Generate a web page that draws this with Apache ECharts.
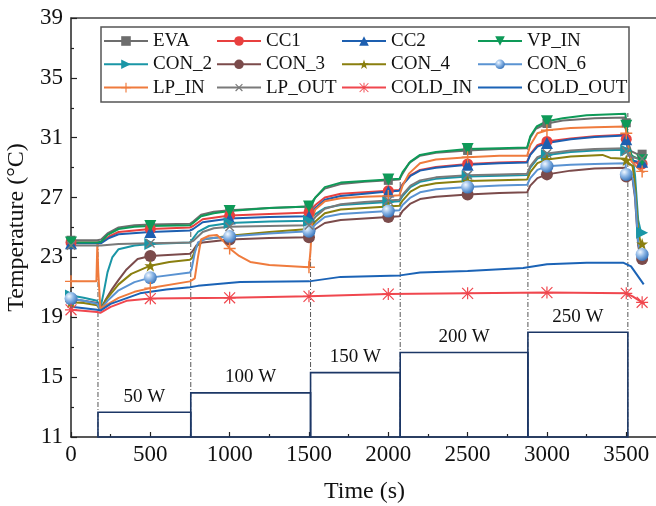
<!DOCTYPE html>
<html>
<head>
<meta charset="utf-8">
<script src="https://cdn.jsdelivr.net/npm/echarts@6/dist/echarts.min.js"></script>
<style>html,body{margin:0;padding:0;background:#fff}#c{width:656px;height:506px}</style>
</head>
<body>
<div id="c"></div>
<script>
// ---- Data (time in s, temperature in °C) ----
const seriesNames = ['EVA','CC1','CC2','VP_IN','CON_2','CON_3','CON_4','CON_6','LP_IN','LP_OUT','COLD_IN','COLD_OUT'];
const markerTimes = [0,500,1000,1500,2000,2500,3000,3500,3600];

const EVA = [[0,24.15],[165,24.15],[190,24.2],[230,24.6],[300,25.0],[400,25.15],[500,25.2],[750,25.25],
 [770,25.4],[820,25.85],[900,26.05],[1000,26.15],[1250,26.3],[1500,26.4],[1510,26.45],
 [1540,27.0],[1600,27.6],[1700,27.9],[1850,28.05],[2000,28.15],[2070,28.2],
 [2090,28.6],[2130,29.3],[2200,29.8],[2300,30.0],[2500,30.15],[2700,30.25],[2875,30.3],
 [2895,31.0],[2930,31.6],[3000,31.95],[3100,32.15],[3300,32.3],[3495,32.35],
 [3500,32.0],[3515,30.6],[3530,30.1],[3560,29.95],[3600,29.9],[3615,29.9]];
const CC1 = [[0,24.0],[165,24.0],[190,24.0],[240,24.4],[300,24.7],[500,24.9],[750,25.0],
 [770,25.1],[830,25.55],[1000,25.8],[1250,25.9],[1500,26.0],[1510,26.05],
 [1540,26.5],[1600,27.0],[1700,27.25],[1850,27.35],[2000,27.45],[2070,27.5],
 [2090,27.9],[2140,28.5],[2200,28.85],[2300,29.05],[2500,29.25],[2700,29.35],[2875,29.4],
 [2895,29.9],[2940,30.5],[3000,30.75],[3150,30.95],[3300,31.1],[3495,31.2],
 [3500,30.9],[3515,29.9],[3535,29.4],[3570,29.3],[3600,29.25],[3615,29.2]];
const CC2 = [[0,23.95],[165,23.95],[190,23.95],[240,24.3],[300,24.55],[500,24.7],[750,24.8],
 [770,24.9],[830,25.35],[1000,25.6],[1250,25.7],[1500,25.75],[1510,25.8],
 [1540,26.3],[1600,26.85],[1700,27.1],[1850,27.25],[2000,27.4],[2070,27.45],
 [2090,27.85],[2140,28.45],[2200,28.8],[2300,29.0],[2500,29.2],[2700,29.3],[2875,29.35],
 [2895,29.85],[2940,30.4],[3000,30.65],[3150,30.9],[3300,31.05],[3495,31.15],
 [3500,30.9],[3515,29.9],[3535,29.5],[3570,29.4],[3600,29.4],[3615,29.4]];
const VP_IN = [[0,24.0],[165,24.0],[190,24.05],[230,24.5],[300,24.9],[400,25.05],[500,25.1],[750,25.15],
 [770,25.3],[820,25.75],[900,25.95],[1000,26.1],[1250,26.3],[1500,26.4],[1510,26.45],
 [1540,27.0],[1600,27.7],[1700,28.0],[1850,28.1],[2000,28.2],[2070,28.25],
 [2090,28.7],[2140,29.4],[2200,29.85],[2300,30.05],[2500,30.25],[2700,30.3],[2875,30.35],
 [2895,31.1],[2935,31.75],[3000,32.1],[3100,32.3],[3250,32.5],[3495,32.6],
 [3500,31.8],[3515,30.4],[3535,29.8],[3570,29.6],[3600,29.5],[3615,29.5]];
const CON_2 = [[0,20.45],[80,20.3],[165,20.1],[185,19.6],[205,20.6],[230,22.0],[260,23.0],[300,23.55],[400,23.8],[500,23.9],[750,24.0],
 [760,24.1],[800,24.7],[870,25.1],[1000,25.3],[1250,25.4],[1500,25.45],[1510,25.5],
 [1540,25.9],[1600,26.3],[1700,26.5],[1850,26.6],[2000,26.7],[2070,26.75],
 [2090,27.1],[2140,27.7],[2200,28.05],[2300,28.25],[2500,28.4],[2700,28.45],[2875,28.5],
 [2895,29.0],[2940,29.6],[3000,29.85],[3150,30.05],[3300,30.15],[3495,30.2],
 [3500,30.15],[3515,29.9],[3540,29.7],[3555,28.5],[3575,25.5],[3590,24.8],[3600,24.65],[3615,24.6]];
const CON_3 = [[0,20.2],[80,20.1],[165,19.95],[185,19.5],[220,20.2],[260,20.9],[300,21.5],[350,22.2],[420,22.9],[500,23.1],[750,23.25],
 [765,23.4],[790,23.8],[830,24.0],[1000,24.2],[1250,24.3],[1500,24.35],[1510,24.4],
 [1540,24.9],[1600,25.3],[1700,25.5],[1850,25.6],[2000,25.7],[2070,25.75],
 [2090,26.1],[2140,26.6],[2200,26.9],[2300,27.05],[2500,27.2],[2700,27.3],[2875,27.35],
 [2895,27.8],[2940,28.3],[3000,28.55],[3150,28.8],[3300,28.95],[3495,29.0],
 [3500,28.4],[3515,28.3],[3540,28.2],[3555,27.0],[3575,23.8],[3590,23.0],[3600,22.9],[3615,22.85]];
const CON_4 = [[0,20.0],[80,19.95],[165,19.8],[185,19.5],[230,20.3],[300,21.2],[380,21.9],[500,22.45],[620,22.7],[750,22.85],
 [765,23.0],[790,23.7],[830,24.2],[1000,24.45],[1250,24.7],[1500,24.9],[1510,24.95],
 [1540,25.4],[1600,25.95],[1700,26.2],[1850,26.3],[2000,26.4],[2070,26.45],
 [2090,26.8],[2140,27.4],[2200,27.75],[2300,27.95],[2500,28.1],[2700,28.15],[2875,28.2],
 [2895,28.7],[2940,29.3],[3000,29.55],[3150,29.75],[3350,29.85],[3400,29.65],[3495,29.6],
 [3500,29.5],[3515,29.3],[3540,29.1],[3555,27.8],[3575,24.8],[3590,24.0],[3600,23.9],[3615,23.85]];
const CON_6 = [[0,20.25],[80,20.1],[165,19.9],[185,19.5],[230,20.1],[300,20.8],[400,21.35],[500,21.65],[750,22.0],
 [760,22.2],[780,23.3],[800,24.0],[850,24.25],[1000,24.4],[1250,24.6],[1500,24.75],[1510,24.8],
 [1540,25.2],[1600,25.7],[1700,25.9],[1850,26.0],[2000,26.1],[2070,26.15],
 [2090,26.5],[2140,27.0],[2200,27.35],[2300,27.55],[2500,27.7],[2700,27.8],[2875,27.85],
 [2895,28.3],[2940,28.85],[3000,29.1],[3150,29.2],[3300,29.25],[3495,29.3],
 [3500,28.55],[3515,28.4],[3540,28.3],[3555,27.2],[3575,24.0],[3590,23.3],[3600,23.2],[3615,23.15]];
const LP_IN = [[0,21.4],[160,21.4],[166,23.9],[172,22.0],[185,19.6],[220,19.8],[300,20.3],[400,20.7],[500,20.95],[750,21.4],
 [780,21.6],[800,23.0],[820,24.2],[870,24.45],[920,24.5],[960,24.1],[1000,23.6],[1060,23.1],[1130,22.7],[1250,22.5],[1500,22.35],
 [1510,23.5],[1520,25.6],[1540,26.2],[1600,26.75],[1700,26.95],[1850,27.05],[2000,27.1],[2070,27.15],
 [2090,27.8],[2130,28.6],[2200,29.3],[2300,29.55],[2500,29.7],[2700,29.8],[2875,29.8],
 [2895,30.5],[2940,31.3],[3000,31.5],[3150,31.65],[3300,31.7],[3495,31.75],
 [3500,31.3],[3515,30.3],[3535,29.4],[3570,29.0],[3600,28.75],[3615,28.7]];
const LP_OUT = [[0,23.8],[165,23.8],[190,23.8],[300,23.9],[500,23.95],[750,24.0],
 [770,24.1],[830,24.7],[900,24.95],[1000,25.05],[1250,25.1],[1500,25.15],[1510,25.2],
 [1540,25.7],[1600,26.25],[1700,26.55],[1850,26.7],[2000,26.8],[2070,26.85],
 [2090,27.2],[2140,27.8],[2200,28.15],[2300,28.35],[2500,28.5],[2700,28.55],[2875,28.6],
 [2895,29.1],[2940,29.7],[3000,29.95],[3150,30.15],[3300,30.25],[3495,30.3],
 [3500,30.1],[3515,29.9],[3535,29.7],[3570,29.65],[3600,29.6],[3615,29.6]];
const COLD_IN = [[0,19.5],[165,19.35],[185,19.3],[250,19.7],[350,20.1],[500,20.25],[1000,20.3],[1500,20.4],
 [2000,20.55],[2500,20.6],[3000,20.65],[3500,20.6],[3540,20.4],[3600,20.0],[3615,19.9]];
const COLD_OUT = [[0,19.7],[165,19.5],[185,19.45],[250,19.9],[435,20.6],[600,20.85],[750,21.0],[800,21.1],[1066,21.35],
 [1500,21.4],[1700,21.7],[2075,21.8],[2200,22.0],[2500,22.1],[2850,22.3],[3000,22.55],[3250,22.65],[3480,22.65],[3530,22.4],[3610,21.2]];

// heating power steps
const powerStart = [170, 755, 1510, 2075, 2880];
const powerEnd   = [755, 1510, 2075, 2880, 3510];
const powerLevel = [12.65, 13.95, 15.3, 16.65, 18.0];
const powerLabels = ['50 W','100 W','150 W','200 W','250 W'];
// dash-dot guide lines at the step changes
const stepTimes = [170, 755, 1510, 2075, 2880, 3510];
const stepTops  = [24.1, 25.2, 26.4, 28.25, 30.35, 32.65];

// ---- Styles ----
const FONT = '"Liberation Serif", "Times New Roman", serif';
const plus = 'path://M4.4,0H5.6V4.4H10V5.6H5.6V10H4.4V5.6H0V4.4H4.4Z';
const asterisk = 'path://M4.5,0H5.5V10H4.5Z M0,4.5H10V5.5H0Z M0.8,0.1L9.9,9.2L9.2,9.9L0.1,0.8Z M9.2,0.1L9.9,0.8L0.8,9.9L0.1,9.2Z';
const star = 'path://M50,0L61.8,34.5L97.6,34.5L68.8,55.9L79.4,90.5L50,69.1L20.6,90.5L31.2,55.9L2.4,34.5L38.2,34.5Z';
const sphere = {type:'radial', x:0.35, y:0.32, r:0.75, colorStops:[{offset:0,color:'#f2f8ff'},{offset:0.45,color:'#8db7e6'},{offset:1,color:'#2f6db5'}]};

const styleMap = {
  EVA:     {data:EVA,     color:'#6d6d6d', symbol:'rect', size:9},
  CC1:     {data:CC1,     color:'#e8403f', symbol:'circle', size:11},
  CC2:     {data:CC2,     color:'#1d5fb0', symbol:'triangle', size:12},
  VP_IN:   {data:VP_IN,   color:'#0e9a58', symbol:'triangle', size:12, rot:180},
  CON_2:   {data:CON_2,   color:'#1a96a6', symbol:'triangle', size:12, rot:-90},
  CON_3:   {data:CON_3,   color:'#7b4b4b', symbol:'circle', size:12},
  CON_4:   {data:CON_4,   color:'#8a7f0f', symbol:star, size:12},
  CON_6:   {data:CON_6,   color:'#5a93d2', symbol:'circle', size:13, fill:sphere},
  LP_IN:   {data:LP_IN,   color:'#ef7b3d', symbol:plus, size:12},
  LP_OUT:  {data:LP_OUT,  color:'#7a7a7a', symbol:plus, size:12, rot:45},
  COLD_IN: {data:COLD_IN, color:'#f0474e', symbol:asterisk, size:12},
  COLD_OUT:{data:COLD_OUT,color:'#1b63b6', symbol:'circle', size:0, fill:'rgba(0,0,0,0)'}
};

const lineSeries = seriesNames.map(name => {
  const s = styleMap[name];
  return {
    name, type:'line', data:s.data, z: 3,
    symbol:s.symbol, symbolRotate:s.rot || 0,
    symbolSize: (v) => markerTimes.indexOf(v[0]) >= 0 ? s.size : 0,
    showAllSymbol:true, animation:false, silent:true,
    lineStyle:{color:s.color, width:2},
    itemStyle:{color:s.fill || s.color, borderWidth:0}
  };
});

const powerSeries = {
  type:'custom', z:2, silent:true, animation:false,
  data: powerStart.map((s,i)=>[s, powerEnd[i], powerLevel[i]]),
  encode:{x:[0,1], y:2},
  renderItem(params, api){
    const p0 = api.coord([api.value(0), api.value(2)]);
    const p1 = api.coord([api.value(1), 11]);
    return {type:'group', children:[
      {type:'rect', shape:{x:p0[0], y:p0[1], width:p1[0]-p0[0], height:p1[1]-p0[1]},
       style:{fill:'none', stroke:'#1c3766', lineWidth:1.6}},
      {type:'text', style:{text:powerLabels[params.dataIndex], x:(p0[0]+p1[0])/2, y:p0[1]-6,
       textAlign:'center', textVerticalAlign:'bottom', font:'19px '+FONT, fill:'#111'}}
    ]};
  }
};

const dashSeries = {
  type:'custom', z:1, silent:true, animation:false,
  data: stepTimes.map((t,i)=>[t, stepTops[i]]),
  encode:{x:0, y:1},
  renderItem(params, api){
    const a = api.coord([api.value(0), 11]);
    const b = api.coord([api.value(0), api.value(1)]);
    return {type:'line', shape:{x1:a[0], y1:a[1], x2:b[0], y2:b[1]},
      style:{stroke:'#555', lineWidth:1, lineDash:[5,2,1,2]}};
  }
};

const legendCols = [
  {left:103, items:['EVA','CON_2','LP_IN']},
  {left:216, items:['CC1','CON_3','LP_OUT']},
  {left:341, items:['CC2','CON_4','COLD_IN']},
  {left:477, items:['VP_IN','CON_6','COLD_OUT']}
];

const option = {
  backgroundColor:'#fff',
  animation:false,
  grid:{left:71, top:18, width:587, height:419, containLabel:false, outerBoundsMode:'none'},
  xAxis:[{
    type:'value', min:0, max:3700, interval:500,
    axisLine:{lineStyle:{color:'#222', width:1.5}},
    axisTick:{inside:true, length:5, lineStyle:{color:'#222', width:1.2}},
    minorTick:{show:true, splitNumber:2, length:3, lineStyle:{color:'#222', width:1.2}},
    axisLabel:{color:'#111', fontSize:23, fontFamily:FONT, margin:6, showMaxLabel:false,
      formatter:(v)=>String(v)},
    splitLine:{show:false},
    name:'Time (s)', nameLocation:'middle', nameGap:43,
    nameTextStyle:{color:'#111', fontSize:24, fontFamily:FONT}
  },{
    type:'value', min:0, max:3700, position:'top',
    axisLine:{show:true, lineStyle:{color:'#444', width:1.5}},
    axisTick:{show:false}, axisLabel:{show:false}, splitLine:{show:false}
  }],
  yAxis:{
    type:'value', min:11, max:39, interval:4,
    axisLine:{show:true, lineStyle:{color:'#222', width:1.5}},
    axisTick:{inside:true, length:6, lineStyle:{color:'#222', width:1.2}},
    minorTick:{show:true, splitNumber:2, length:3, lineStyle:{color:'#222', width:1.2}},
    axisLabel:{color:'#111', fontSize:23, fontFamily:FONT, margin:8, formatter:(v)=>String(v)},
    splitLine:{show:false},
    name:'Temperature (°C)', nameLocation:'middle', nameGap:32,
    nameTextStyle:{color:'#111', fontSize:24, fontFamily:FONT}
  },
  legend: legendCols.map(c => ({
    data:c.items, orient:'vertical', left:c.left, top:31, padding:0,
    itemWidth:44, itemHeight:12, itemGap:3.3, selectedMode:false,
    textStyle:{fontSize:19, fontFamily:FONT, color:'#111', lineHeight:20}
  })),
  graphic:[{type:'rect', shape:{x:101, y:27, width:528, height:75},
    style:{fill:'none', stroke:'#555', lineWidth:1.5}, z:10}],
  series:[dashSeries, powerSeries, ...lineSeries]
};

const chart = echarts.init(document.getElementById('c'), null, {renderer:'canvas'});
chart.setOption(option);
</script>
</body>
</html>
